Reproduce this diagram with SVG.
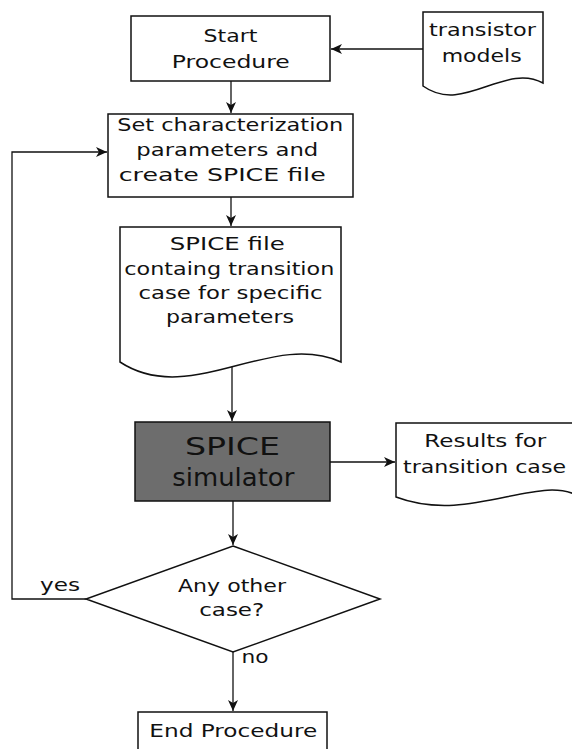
<svg xmlns="http://www.w3.org/2000/svg" width="572" height="749" viewBox="0 0 572 749">
<style>
.box{fill:#fff;stroke:#111;stroke-width:1.5}
.dark{fill:#6d6d6d;stroke:#111;stroke-width:1.5}
.t{font-family:"DejaVu Sans",Verdana,sans-serif;font-size:18px;fill:#111;text-anchor:middle}
.big{font-size:24px}
.c{fill:none;stroke:#111;stroke-width:1.3}
</style>
<defs>
<marker id="ah" markerUnits="userSpaceOnUse" markerWidth="12" markerHeight="10" refX="11" refY="5" orient="auto">
<path d="M0,0 L11,5 L0,10 L3,5 Z" fill="#111"/>
</marker>
</defs>
<rect width="572" height="749" fill="#fff"/>
<g id="connectors">
<path class="c" d="M423,49 H331" marker-end="url(#ah)"/>
<path class="c" d="M231,81 V113" marker-end="url(#ah)"/>
<path class="c" d="M231,197 V226" marker-end="url(#ah)"/>
<path class="c" d="M232,363 V421" marker-end="url(#ah)"/>
<path class="c" d="M330,462 H395" marker-end="url(#ah)"/>
<path class="c" d="M233,501 V545" marker-end="url(#ah)"/>
<path class="c" d="M233,652 V711" marker-end="url(#ah)"/>
<path class="c" d="M86,599 H12 V152 H107" marker-end="url(#ah)"/>
</g>
<g id="start">
<rect class="box" x="131" y="16" width="199" height="65"/>
<text class="t" x="230.5" y="41.7" textLength="54" lengthAdjust="spacingAndGlyphs">Start</text>
<text class="t" x="230.8" y="67.7" textLength="118" lengthAdjust="spacingAndGlyphs">Procedure</text>
</g>
<g id="transistor-models">
<path class="box" d="M423,12 H543 V83 C505,62 463,115 423,86 Z"/>
<text class="t" x="482.5" y="35.7" textLength="107" lengthAdjust="spacingAndGlyphs">transistor</text>
<text class="t" x="481.7" y="61.7" textLength="80" lengthAdjust="spacingAndGlyphs">models</text>
</g>
<g id="set-params">
<rect class="box" x="108" y="114" width="245" height="83"/>
<text class="t" x="230.3" y="130.7" textLength="226" lengthAdjust="spacingAndGlyphs">Set characterization</text>
<text class="t" x="227.3" y="155.7" textLength="182" lengthAdjust="spacingAndGlyphs">parameters and</text>
<text class="t" x="222.2" y="181" textLength="207" lengthAdjust="spacingAndGlyphs">create SPICE file</text>
</g>
<g id="spice-file">
<path class="box" d="M120,227 H341 V362 C270,330 190,408 120,362 Z"/>
<text class="t" x="227.3" y="250" textLength="115" lengthAdjust="spacingAndGlyphs">SPICE file</text>
<text class="t" x="229.3" y="275.3" textLength="210" lengthAdjust="spacingAndGlyphs">containg transition</text>
<text class="t" x="230.5" y="299" textLength="184" lengthAdjust="spacingAndGlyphs">case for specific</text>
<text class="t" x="230" y="323" textLength="128" lengthAdjust="spacingAndGlyphs">parameters</text>
</g>
<g id="spice-simulator">
<rect class="dark" x="135" y="422" width="195" height="79"/>
<text class="t big" x="232.5" y="455" textLength="95" lengthAdjust="spacingAndGlyphs">SPICE</text>
<text class="t big" x="233.3" y="486" textLength="122" lengthAdjust="spacingAndGlyphs">simulator</text>
</g>
<g id="results">
<path class="box" d="M396,423 H580 V497 C540,472 470,525 396,497 Z"/>
<text class="t" x="485.3" y="446.7" textLength="122" lengthAdjust="spacingAndGlyphs">Results for</text>
<text class="t" x="484.5" y="472.7" textLength="163" lengthAdjust="spacingAndGlyphs">transition case</text>
</g>
<g id="decision">
<path class="box" d="M233,546 L380,599 L233,652 L86,599 Z"/>
<text class="t" x="232" y="591.7" textLength="108" lengthAdjust="spacingAndGlyphs">Any other</text>
<text class="t" x="231.7" y="615.7" textLength="65" lengthAdjust="spacingAndGlyphs">case?</text>
</g>
<g id="labels">
<text class="t" x="60" y="591" textLength="40" lengthAdjust="spacingAndGlyphs">yes</text>
<text class="t" x="255" y="663.3" textLength="27" lengthAdjust="spacingAndGlyphs">no</text>
</g>
<g id="end">
<rect class="box" x="138" y="712" width="189" height="60"/>
<text class="t" x="233.3" y="737.3" textLength="168" lengthAdjust="spacingAndGlyphs">End Procedure</text>
</g>
</svg>
